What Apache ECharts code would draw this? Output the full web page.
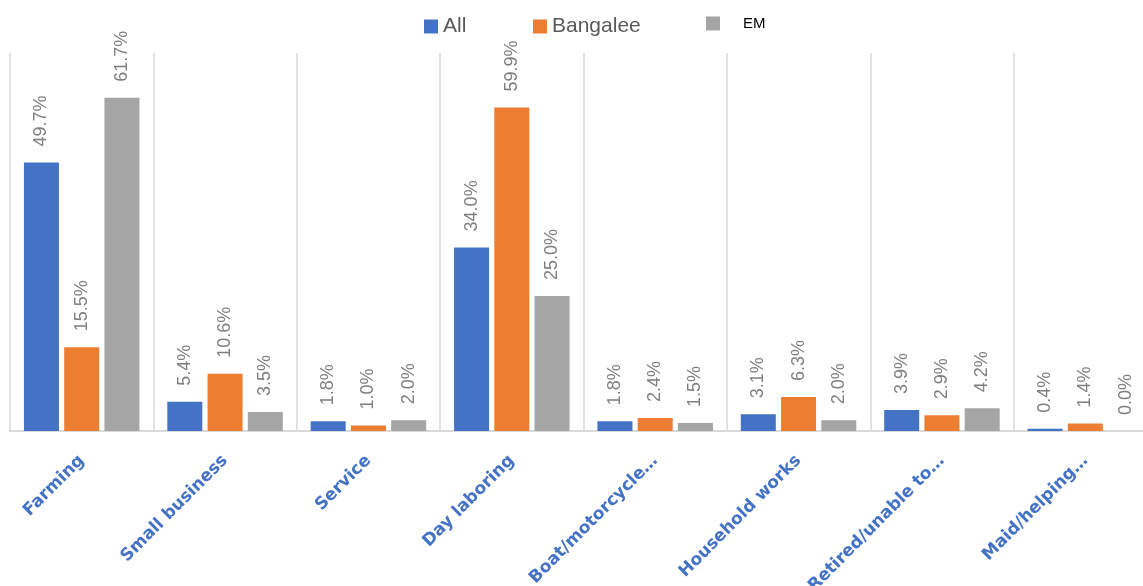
<!DOCTYPE html>
<html>
<head>
<meta charset="utf-8">
<script src="https://cdn.jsdelivr.net/npm/echarts@6/dist/echarts.min.js"></script>
<style>
html,body{margin:0;padding:0;background:#fff;}
#chart{width:1143px;height:586px;}
</style>
</head>
<body>
<div id="chart"></div>
<script>
// Main occupation by group (% of households)
const categories = ['Farming', 'Small business', 'Service', 'Day laboring',
  'Boat/motorcycle…', 'Household works', 'Retired/unable to…', 'Maid/helping…'];
const allValues = [49.7, 5.4, 1.8, 34.0, 1.8, 3.1, 3.9, 0.4];
const bangaleeValues = [15.5, 10.6, 1.0, 59.9, 2.4, 6.3, 2.9, 1.4];
const emValues = [61.7, 3.5, 2.0, 25.0, 1.5, 2.0, 4.2, 0.0];
const seriesNames = ['All', 'Bangalee', 'EM'];
const colors = ['#4472c4', '#ed7d31', '#a5a5a5'];

const chart = echarts.init(document.getElementById('chart'));

const valueLabel = {
  show: true,
  position: 'top',
  rotate: 90,
  align: 'left',
  verticalAlign: 'middle',
  distance: 16,
  color: '#7f7f7f',
  fontFamily: 'Liberation Sans',
  fontSize: 18,
  formatter: p => p.value.toFixed(1) + '%'
};

function bar(name, data, color) {
  return {
    name: name,
    type: 'bar',
    data: data,
    barWidth: 35,
    barGap: '15%',
    itemStyle: { color: color },
    label: valueLabel
  };
}

const legendBase = {
  top: 11,
  icon: 'rect',
  itemWidth: 14,
  itemHeight: 14,
  itemGap: 6,
  textStyle: { fontFamily: 'Liberation Sans', fontSize: 21, color: '#595959' }
};

chart.setOption({
  animation: false,
  color: colors,
  legend: [
    Object.assign({}, legendBase, { left: 419, data: ['All'] }),
    Object.assign({}, legendBase, { left: 528, data: ['Bangalee'] }),
    Object.assign({}, legendBase, {
      left: 701, data: ['EM'],
      textStyle: { fontFamily: 'Liberation Sans', fontSize: 15, color: '#000', padding: [0, 0, 12, 18] }
    })
  ],
  grid: { left: 10, top: 53, width: 1147, bottom: 155, containLabel: false, outerBoundsMode: 'none' },
  xAxis: {
    type: 'category',
    data: categories,
    axisLine: { show: true, lineStyle: { color: '#d9d9d9', width: 2 } },
    axisTick: { show: false },
    splitLine: { show: true, lineStyle: { color: '#d9d9d9', width: 1.5 } },
    axisLabel: {
      interval: 0,
      rotate: 45,
      margin: 27,
      color: '#4472c4',
      fontFamily: 'DejaVu Sans',
      fontWeight: 'bold',
      fontSize: 17
    }
  },
  yAxis: {
    type: 'value',
    min: 0,
    max: 70,
    show: false,
    splitLine: { show: false }
  },
  series: [
    bar(seriesNames[0], allValues, colors[0]),
    bar(seriesNames[1], bangaleeValues, colors[1]),
    bar(seriesNames[2], emValues, colors[2])
  ]
});
</script>
</body>
</html>
